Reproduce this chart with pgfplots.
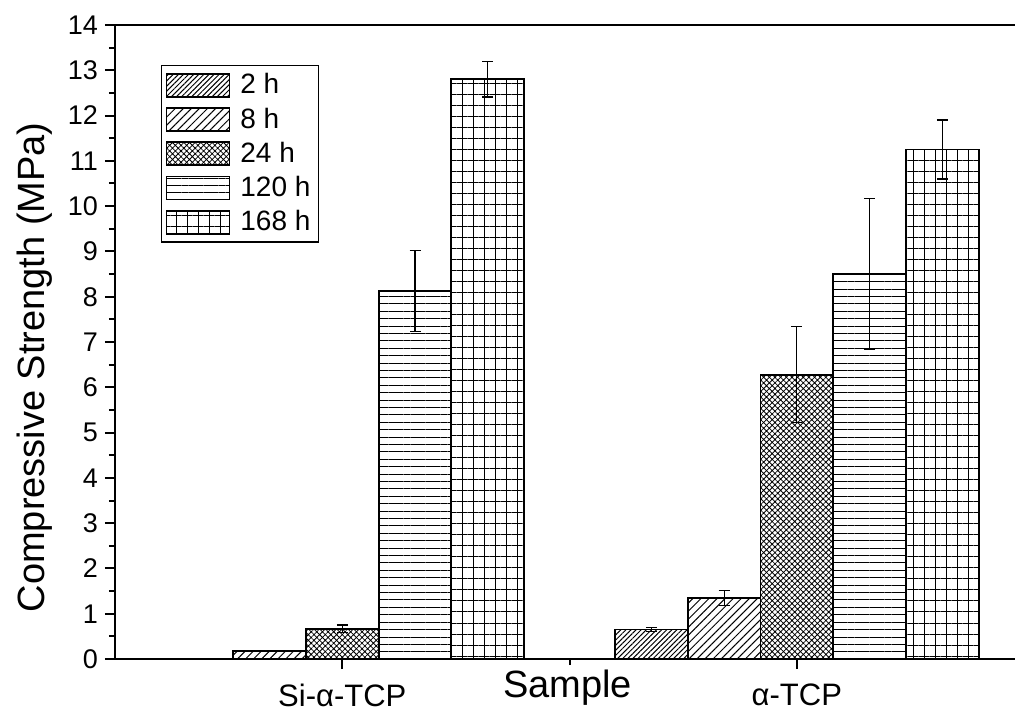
\documentclass[border=0pt]{standalone}
\usepackage{fontspec}
\setmainfont{Liberation Sans}
\usepackage{pgfplots}
\pgfplotsset{compat=1.18}
\usetikzlibrary{patterns.meta}

\pgfplotsset{
  barbox/.style={draw=black, line width=0.9pt,
    legend image code/.code={\draw[##1] (0pt,-5.75pt) rectangle (31.5pt,5.75pt);},
    error bars/y dir=both, error bars/y explicit,
    error bars/error bar style={line width=0.6pt, black},
    error bars/error mark options={rotate=90, mark size=2.75pt, line width=0.6pt, black}},
}

\begin{document}
\begin{tikzpicture}
\begin{axis}[
  scale only axis, width=450pt, height=317pt,
  xmin=0.5, xmax=2.48, ymin=0, ymax=14,
  axis lines*=left,
  axis line style={line width=1.4pt},
  clip=false,
  ybar=0pt, bar width=0.16,
  xtick={1,2}, xticklabels={Si-α-TCP, α-TCP},
  minor xtick={1.5},
  ytick={0,...,14}, minor ytick={0.5,1.5,...,13.5},
  tick align=outside,
  major tick length=5pt, minor tick length=3pt,
  tick style={line width=1pt, black},
  /pgf/number format/assume math mode=true,
  yticklabel style={font=\fontsize{13.5}{16}\selectfont},
  xticklabel style={font=\fontsize{15.5}{18}\selectfont, yshift=-4pt},
  xlabel={Sample},
  ylabel={Compressive Strength (MPa)},
  xlabel style={font=\fontsize{19}{22}\selectfont, at={(axis description cs:0.503,-0.06)}, anchor=base},
  ylabel style={font=\fontsize{19}{22}\selectfont, at={(axis description cs:-0.089,0.46)}, anchor=center},
  legend cell align=left,
  legend style={at={(axis description cs:0.0511,0.937)}, anchor=north west,
    draw=black, line width=0.6pt, font=\fontsize{14}{16}\selectfont,
    inner xsep=2pt, inner ysep=2pt, row sep=1.5pt,
    /tikz/every odd column/.append style={column sep=3pt}},
]
\addplot[barbox, pattern={Lines[angle=45,distance=1.8pt,line width=0.5pt]}]
  coordinates {(2,0.65) +- (0,0.04)};
\addlegendentry{2 h}
\addplot[barbox, pattern={Lines[angle=45,distance=2.85pt,line width=0.5pt]}]
  coordinates {(1,0.17) +- (0,0.0) (2,1.35) +- (0,0.17)};
\addlegendentry{8 h}
\addplot[barbox, pattern={Hatch[angle=45,distance=2pt,line width=0.4pt]}]
  coordinates {(1,0.67) +- (0,0.08) (2,6.28) +- (0,1.06)};
\addlegendentry{24 h}
\addplot[barbox, pattern={Lines[angle=0,distance=3.7pt,line width=0.5pt]}]
  coordinates {(1,8.13) +- (0,0.89) (2,8.50) +- (0,1.67)};
\addlegendentry{120 h}
\addplot[barbox, pattern={Hatch[angle=0,distance=5.5pt,line width=0.5pt]}]
  coordinates {(1,12.80) +- (0,0.39) (2,11.25) +- (0,0.65)};
\addlegendentry{168 h}
\draw[line width=1.4pt] (rel axis cs:0,1) -- (rel axis cs:1,1);
\coordinate (bbl) at (rel axis cs:-0.12778,-0.08202);
\coordinate (btr) at (rel axis cs:1,1.03943);
\end{axis}
\pgfresetboundingbox
\useasboundingbox (bbl) rectangle (btr);
\end{tikzpicture}
\end{document}
